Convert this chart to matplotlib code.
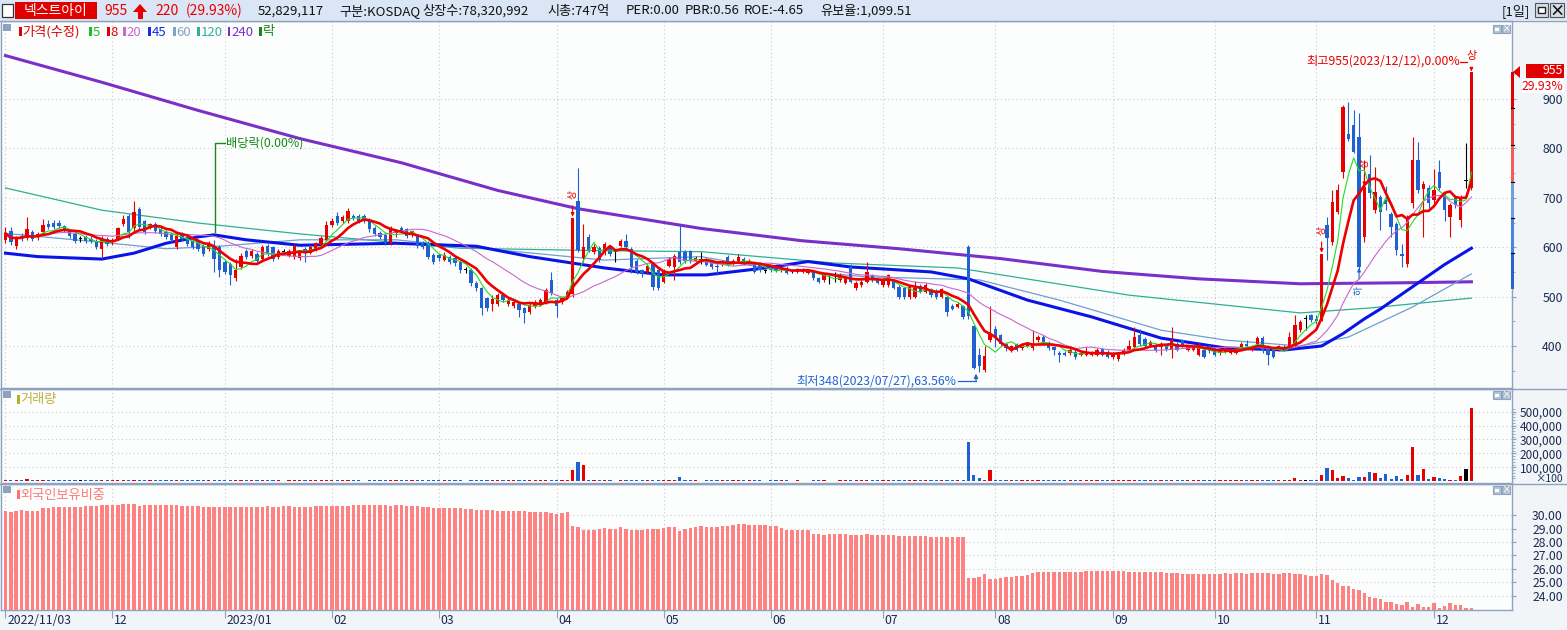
import matplotlib
matplotlib.use("Agg")
import matplotlib.pyplot as plt
import matplotlib.transforms as mtransforms
from matplotlib.patches import Rectangle, Polygon
from matplotlib.lines import Line2D
import numpy as np
import pandas as pd

plt.rcParams["font.family"] = ["Noto Sans CJK KR", "DejaVu Sans"]

# ---------------- data ----------------
# daily candles 2022/11/03 .. 2023/12/12, one row per month in each list
opens = [
    614, 633, 603, 623, 618, 630, 620, 630, 647, 650, 650, 642, 633, 627, 617, 620, 617, 613, 597, 617,
    610, 617, 647, 663, 638, 678, 653, 641, 647, 637, 630, 627, 600, 627, 620, 613, 613, 603, 597, 603, 600,
    570, 567, 537, 560, 593, 583, 587, 577, 603, 600, 580, 590, 583, 580, 578, 596, 589, 596, 605, 615,
    646, 664, 653, 653, 664, 664, 664, 656, 639, 629, 625, 608, 629, 639, 636, 625, 622, 608, 608, 585,
    585, 575, 581, 578, 571, 554, 554, 528, 517, 497, 486, 486, 503, 486, 480, 486, 476, 469, 480, 486, 490, 534,
    493, 490, 500, 505, 693, 578, 621, 590, 598, 590, 600, 590, 603, 613, 597, 573, 553, 550, 567, 553,
    530, 563, 560, 590, 590, 592, 573, 575, 575, 572, 563, 566, 581, 568, 572, 577, 567, 570, 567, 552,
    560, 560, 553, 558, 552, 550, 550, 548, 550, 537, 533, 537, 533, 533, 528, 560, 517, 523, 530, 543, 535,
    523, 523, 533, 520, 517, 499, 500, 521, 510, 515, 512, 500, 499, 482, 479, 481, 600, 440, 382, 352, 412,
    434, 422, 405, 390, 404, 395, 400, 395, 412, 419, 407, 397, 386, 386, 385, 388, 382, 382, 382, 382, 393, 388,
    377, 373, 385, 391, 399, 422, 415, 402, 402, 399, 402, 392, 405, 412, 392, 392, 382, 392, 400,
    395, 385, 388, 386, 386, 395, 405, 392, 404, 417, 399, 395, 392, 395, 398, 401, 432, 455, 462,
    455, 452, 645, 611, 672, 753, 830, 847, 824, 621, 749, 675, 702, 695, 668, 648, 586, 567, 689, 776, 717, 719,
    695, 753, 709, 661, 702, 655, 735, 720,
]
highs = [
    640, 640, 622, 628, 662, 635, 630, 657, 655, 655, 655, 646, 636, 630, 622, 624, 622, 616, 622, 620,
    618, 640, 665, 668, 693, 682, 656, 650, 652, 640, 634, 630, 628, 631, 625, 616, 617, 607, 612, 615, 604,
    574, 570, 577, 588, 596, 597, 590, 604, 606, 603, 597, 596, 597, 606, 592, 600, 604, 611, 622, 653,
    660, 672, 665, 680, 668, 667, 667, 660, 642, 632, 628, 642, 637, 643, 639, 635, 625, 612, 612, 588,
    588, 590, 584, 581, 574, 560, 557, 531, 520, 500, 504, 507, 506, 497, 494, 489, 479, 487, 494, 497, 518, 549,
    497, 500, 514, 660, 761, 647, 626, 606, 603, 610, 604, 597, 616, 627, 600, 576, 556, 566, 570, 556,
    556, 580, 587, 647, 594, 595, 582, 590, 578, 575, 566, 575, 584, 576, 587, 580, 576, 573, 570, 556,
    563, 563, 563, 561, 556, 558, 558, 556, 553, 540, 547, 543, 550, 547, 540, 567, 531, 533, 570, 546, 538,
    538, 546, 536, 523, 520, 524, 532, 525, 528, 518, 515, 518, 502, 486, 489, 484, 605, 442, 395, 400, 480,
    440, 425, 408, 403, 407, 406, 406, 432, 422, 422, 410, 400, 389, 389, 395, 391, 389, 397, 389, 395, 396, 391,
    388, 388, 395, 412, 438, 434, 418, 412, 405, 408, 405, 438, 408, 415, 403, 402, 408, 395, 403,
    398, 395, 398, 396, 398, 408, 412, 403, 420, 420, 402, 398, 403, 402, 428, 462, 452, 462, 465,
    462, 587, 661, 716, 729, 888, 895, 878, 871, 776, 786, 763, 706, 723, 672, 652, 607, 665, 824, 813, 735, 725,
    759, 776, 712, 690, 706, 705, 810, 955,
]
lows = [
    608, 605, 597, 612, 615, 612, 614, 626, 636, 636, 638, 630, 618, 608, 610, 608, 608, 596, 580, 602,
    605, 614, 642, 618, 632, 636, 626, 636, 628, 622, 616, 610, 596, 612, 603, 597, 593, 583, 593, 550, 540,
    545, 523, 532, 556, 576, 579, 568, 574, 583, 573, 577, 585, 580, 577, 575, 570, 586, 593, 602, 612,
    640, 645, 650, 650, 655, 650, 650, 630, 622, 616, 604, 605, 620, 628, 618, 620, 598, 596, 577, 566,
    572, 572, 566, 563, 548, 548, 522, 512, 463, 470, 470, 482, 489, 482, 476, 458, 446, 465, 476, 482, 486, 503,
    458, 486, 496, 500, 590, 570, 590, 586, 570, 585, 583, 570, 600, 596, 547, 545, 540, 546, 513, 513,
    527, 560, 533, 566, 569, 568, 570, 567, 562, 556, 543, 563, 562, 565, 570, 564, 564, 547, 550, 548,
    550, 549, 550, 545, 548, 547, 547, 545, 533, 527, 530, 525, 530, 530, 525, 527, 514, 520, 527, 530, 525,
    520, 520, 515, 496, 496, 496, 497, 507, 507, 499, 496, 497, 460, 472, 476, 455, 455, 353, 348, 348, 408,
    399, 400, 390, 387, 389, 392, 397, 392, 409, 404, 392, 382, 368, 379, 382, 374, 379, 379, 379, 379, 379, 375,
    374, 370, 382, 388, 396, 401, 397, 399, 388, 382, 390, 375, 389, 397, 389, 389, 379, 375, 386,
    379, 382, 385, 383, 383, 392, 398, 389, 401, 386, 361, 375, 389, 394, 395, 398, 429, 432, 449,
    445, 450, 574, 605, 668, 740, 815, 790, 555, 610, 700, 670, 634, 675, 621, 584, 560, 560, 680, 710, 620, 680,
    690, 715, 654, 621, 680, 641, 720, 715,
]
closes = [
    628, 610, 618, 620, 636, 617, 626, 645, 640, 640, 643, 635, 623, 613, 617, 613, 613, 600, 617, 607,
    615, 638, 657, 630, 671, 640, 630, 647, 633, 627, 620, 615, 623, 617, 607, 600, 597, 587, 607, 577, 553,
    550, 543, 553, 583, 580, 593, 573, 600, 587, 577, 593, 590, 593, 602, 588, 588, 600, 608, 619, 646,
    653, 649, 661, 673, 659, 653, 653, 636, 627, 621, 608, 639, 634, 632, 623, 632, 602, 600, 581, 571,
    578, 585, 571, 568, 554, 554, 527, 517, 476, 476, 496, 503, 493, 493, 490, 473, 466, 483, 490, 493, 514, 507,
    480, 497, 510, 660, 595, 600, 595, 600, 575, 607, 587, 590, 612, 600, 560, 550, 547, 563, 520, 517,
    553, 577, 583, 570, 573, 572, 579, 575, 565, 560, 560, 572, 565, 573, 581, 567, 573, 550, 553, 552,
    553, 552, 560, 548, 552, 555, 555, 553, 537, 530, 543, 537, 533, 543, 537, 530, 528, 530, 550, 533, 528,
    535, 543, 518, 500, 500, 520, 517, 510, 523, 503, 500, 515, 468, 475, 485, 459, 460, 355, 360, 380, 425,
    419, 405, 395, 400, 392, 404, 404, 405, 419, 407, 395, 392, 382, 382, 392, 377, 386, 388, 386, 392, 382, 378,
    385, 385, 392, 400, 419, 404, 400, 409, 391, 405, 393, 412, 392, 400, 400, 398, 395, 378, 389,
    382, 392, 395, 393, 396, 405, 400, 400, 417, 389, 382, 378, 400, 398, 418, 442, 449, 455, 452,
    450, 587, 618, 692, 716, 884, 820, 793, 560, 722, 709, 712, 672, 688, 641, 594, 583, 661, 776, 715, 729, 689,
    716, 719, 675, 685, 685, 699, 735, 955,
]
# volume, in units of 100 shares (axis shows x100)
volumes = [
    8000, 6000, 7000, 6000, 14000, 7000, 6000, 9000, 6000, 5000, 6000, 5000, 6000, 7000, 5000, 6000, 5000, 6000, 8000, 6000,
    7000, 9000, 8000, 7000, 12000, 8000, 6000, 5000, 5000, 6000, 5000, 6000, 7000, 5000, 6000, 5000, 5000, 6000, 5000, 9000, 8000,
    7000, 8000, 6000, 7000, 5000, 5000, 6000, 6000, 5000, 6000, 5000, 4000, 5000, 6000, 5000, 5000, 6000, 6000, 7000, 9000,
    8000, 7000, 6000, 8000, 5000, 5000, 4000, 6000, 5000, 5000, 6000, 7000, 5000, 5000, 5000, 5000, 6000, 5000, 6000, 6000,
    5000, 5000, 5000, 6000, 6000, 4000, 7000, 6000, 9000, 6000, 6000, 6000, 5000, 5000, 5000, 6000, 7000, 6000, 5000, 5000, 7000, 8000,
    6000, 5000, 6000, 78000, 137000, 115000, 12000, 12000, 6000, 6000, 5000, 4000, 6000, 7000, 8000, 6000, 5000, 5000, 7000, 6000,
    6000, 6000, 8000, 27000, 7000, 6000, 5000, 4000, 5000, 5000, 5000, 5000, 5000, 5000, 6000, 5000, 5000, 5000, 5000, 4000,
    5000, 5000, 5000, 5000, 4000, 5000, 4000, 4000, 5000, 5000, 5000, 4000, 4000, 5000, 5000, 7000, 5000, 5000, 7000, 5000, 5000,
    5000, 5000, 5000, 6000, 6000, 6000, 6000, 5000, 5000, 5000, 5000, 5000, 7000, 5000, 5000, 6000, 283000, 41000, 20000, 12000, 78000,
    9000, 7000, 6000, 5000, 5000, 5000, 5000, 6000, 6000, 5000, 5000, 5000, 5000, 5000, 5000, 5000, 5000, 5000, 5000, 5000, 5000, 5000,
    5000, 5000, 5000, 6000, 8000, 6000, 5000, 5000, 5000, 5000, 5000, 6000, 5000, 5000, 5000, 5000, 5000, 5000, 5000,
    5000, 5000, 5000, 5000, 5000, 5000, 5000, 5000, 6000, 6000, 6000, 5000, 5000, 7000, 7000, 26000, 12000, 12000, 5000,
    5000, 47000, 96000, 82000, 21000, 40000, 26000, 12000, 33000, 33000, 68000, 61000, 26000, 54000, 19000, 40000, 19000, 47000, 244000, 47000, 89000, 19000,
    33000, 26000, 19000, 12000, 12000, 40000, 89000, 526000,
]
# foreign ownership ratio (%)
foreign = [
    30.32, 30.24, 30.32, 30.37, 30.30, 30.30, 30.30, 30.49, 30.49, 30.59, 30.59, 30.59, 30.59, 30.59, 30.59, 30.66, 30.66, 30.66, 30.73, 30.73,
    30.73, 30.78, 30.85, 30.85, 30.80, 30.66, 30.73, 30.73, 30.73, 30.73, 30.73, 30.73, 30.73, 30.66, 30.66, 30.66, 30.66, 30.59, 30.59, 30.59, 30.59,
    30.59, 30.59, 30.59, 30.59, 30.59, 30.59, 30.59, 30.59, 30.66, 30.59, 30.59, 30.66, 30.66, 30.59, 30.59, 30.59, 30.59, 30.66, 30.66, 30.66,
    30.66, 30.66, 30.66, 30.66, 30.73, 30.73, 30.73, 30.73, 30.73, 30.73, 30.73, 30.66, 30.73, 30.73, 30.66, 30.66, 30.66, 30.59, 30.59, 30.51,
    30.51, 30.51, 30.51, 30.51, 30.51, 30.44, 30.44, 30.37, 30.37, 30.37, 30.37, 30.29, 30.29, 30.29, 30.29, 30.29, 30.29, 30.25, 30.25, 30.22, 30.22, 30.12,
    30.05, 30.12, 30.22, 29.20, 29.12, 28.90, 28.90, 28.90, 28.98, 29.05, 28.98, 28.98, 29.12, 28.98, 28.90, 28.90, 28.90, 28.98, 28.98, 28.98,
    29.05, 29.12, 29.12, 28.83, 28.98, 29.05, 29.12, 29.20, 29.12, 29.12, 29.12, 29.20, 29.20, 29.27, 29.34, 29.34, 29.27, 29.27, 29.27, 29.27,
    29.20, 29.20, 29.05, 28.90, 28.90, 28.90, 28.90, 28.90, 28.60, 28.60, 28.54, 28.60, 28.60, 28.60, 28.60, 28.54, 28.54, 28.54, 28.60, 28.54, 28.54,
    28.54, 28.54, 28.54, 28.46, 28.46, 28.46, 28.46, 28.46, 28.46, 28.39, 28.39, 28.39, 28.39, 28.39, 28.39, 28.39, 25.32, 25.32, 25.39, 25.60, 25.24,
    25.24, 25.32, 25.39, 25.39, 25.46, 25.46, 25.54, 25.68, 25.76, 25.76, 25.76, 25.76, 25.76, 25.76, 25.76, 25.76, 25.76, 25.83, 25.83, 25.83, 25.83, 25.83,
    25.83, 25.83, 25.83, 25.76, 25.76, 25.76, 25.76, 25.76, 25.76, 25.76, 25.68, 25.68, 25.68, 25.61, 25.61, 25.61, 25.61, 25.61, 25.61,
    25.61, 25.61, 25.68, 25.61, 25.68, 25.68, 25.61, 25.68, 25.68, 25.68, 25.68, 25.61, 25.61, 25.68, 25.73, 25.63, 25.63, 25.56, 25.48,
    25.48, 25.63, 25.56, 25.19, 24.99, 24.74, 24.74, 24.52, 24.44, 24.25, 23.93, 23.85, 23.78, 23.56, 23.56, 23.41, 23.33, 23.56, 23.19, 23.41, 23.19, 23.19,
    23.48, 23.11, 23.26, 23.48, 23.33, 23.33, 23.11, 23.11,
]

# long moving averages (bar index, value)
ma45_idx = [0, 6, 18, 24, 30, 36, 39, 45, 55, 73, 88, 98, 112, 123, 131, 142, 150, 158, 173, 180, 191, 203, 216, 228, 239, 246, 250, 254, 257, 263, 269, 274]
ma45_val = [588, 581, 576, 588, 608, 621, 625, 615, 604, 608, 602, 581, 558, 544, 544, 558, 571, 560, 550, 536, 493, 459, 416, 396, 392, 400, 425, 455, 475, 520, 565, 598]
ma60_idx = [0, 18, 30, 40, 55, 73, 85, 112, 130, 142, 161, 182, 197, 216, 228, 242, 251, 263, 274]
ma60_val = [628, 610, 597, 602, 615, 615, 602, 574, 581, 558, 540, 534, 493, 432, 412, 400, 418, 479, 546]
ma120_idx = [0, 18, 36, 55, 85, 112, 130, 155, 178, 210, 242, 255, 274]
ma120_val = [720, 675, 649, 627, 598, 593, 591, 568, 558, 503, 467, 477, 497]
ma240_idx = [0, 18, 36, 55, 74, 92, 107, 130, 149, 167, 186, 205, 223, 242, 261, 274]
ma240_val = [988, 934, 877, 820, 771, 715, 678, 638, 613, 597, 577, 551, 536, 526, 528, 530]

month_idx = [0, 20, 41, 61, 81, 103, 123, 143, 164, 185, 207, 226, 245, 267]
month_labels = ["2022/11/03", "12", "2023/01", "02", "03", "04", "05", "06", "07", "08", "09", "10", "11", "12"]

limit_up_idx = [106, 246, 254]
limit_down_idx = [253]
exdiv_idx = 39
high_date, high_pct = "2023/12/12", 0.00
low_date, low_pct = "2023/07/27", 63.56

price_ticks = [400, 500, 600, 700, 800, 900]
volume_ticks = [100000, 200000, 300000, 400000, 500000]
foreign_ticks = [24, 25, 26, 27, 28, 29, 30]

# ---------------- style ----------------
W, H = 1567, 630
RED = "#e80000"
BLUE = "#1f62cf"
NAVY = "#1c2a52"
FRAME = "#8ea2be"
PANEL_BG = "#fcfefe"
SIDE_BG = "#f1f5f7"
GRID = "#c6cbd2"

o = np.array(opens, float)
h = np.array(highs, float)
l = np.array(lows, float)
c = np.array(closes, float)
idx = np.arange(len(c))
cols = np.where(c > o, RED, np.where(c < o, BLUE, "#000000"))

fig = plt.figure(figsize=(W / 100, H / 100), dpi=100)
fig.patch.set_facecolor(SIDE_BG)


def box(x0, y0, x1, y1):
    return [x0 / W, 1 - y1 / H, (x1 - x0) / W, (y1 - y0) / H]


def rect(x0, y0, x1, y1, **kw):
    fig.add_artist(Rectangle((x0 / W, 1 - y1 / H), (x1 - x0) / W, (y1 - y0) / H,
                             transform=fig.transFigure, **kw))


def ftext(x, y, s, **kw):
    fig.text(x / W, 1 - y / H, s, **kw)


def fline(x0, y0, x1, y1, **kw):
    fig.add_artist(Line2D([x0 / W, x1 / W], [1 - y0 / H, 1 - y1 / H], transform=fig.transFigure, **kw))


XL = ((1 - 5.5) / 5.35, (1512 - 5.5) / 5.35)

ax_p = fig.add_axes(box(1, 21, 1512, 388))
ax_v = fig.add_axes(box(1, 389, 1512, 483))
ax_f = fig.add_axes(box(1, 484, 1512, 610))

for ax in (ax_p, ax_v, ax_f):
    ax.set_facecolor(PANEL_BG)
    ax.set_xlim(*XL)
    for sp in ax.spines.values():
        sp.set_color(FRAME)
        sp.set_linewidth(1.0)
    ax.set_xticks(month_idx)
    ax.tick_params(axis="x", length=0, labelbottom=False)
    ax.yaxis.tick_right()
    ax.tick_params(axis="y", which="major", direction="out", length=3, color=FRAME,
                   pad=33.5, labelsize=8.8, labelcolor=NAVY)
    ax.tick_params(axis="y", which="minor", direction="out", length=2, color=FRAME)
    ax.grid(True, color=GRID, linestyle=(0, (1, 2.5)), linewidth=0.8)
    ax.set_axisbelow(True)

# ---------------- price panel ----------------
ax_p.set_ylim(315, 1058)
ax_p.set_yticks(price_ticks)
ax_p.set_yticklabels([str(t) for t in price_ticks])
ax_p.set_yticks(np.arange(350, 1000, 100), minor=True)

ax_p.plot(ma240_idx, ma240_val, color="#7a2fc8", lw=2.2, zorder=2)
ax_p.plot(ma120_idx, ma120_val, color="#2fae94", lw=0.9, zorder=2)
ax_p.plot(ma60_idx, ma60_val, color="#6f9fd0", lw=0.9, zorder=2)
ax_p.plot(ma45_idx, ma45_val, color="#0a14e6", lw=2.2, zorder=2.5)

ax_p.vlines(idx, l, h, colors=cols, lw=0.8, zorder=3)
ax_p.bar(idx, np.maximum(np.abs(c - o), 1.6), bottom=np.minimum(o, c), width=0.62,
         color=cols, linewidth=0, zorder=3)

s = pd.Series(c)
ax_p.plot(idx, s.rolling(20, min_periods=1).mean(), color="#cc66cc", lw=0.8, zorder=3.5)
ax_p.plot(idx, s.rolling(5, min_periods=1).mean(), color="#22dd22", lw=0.8, zorder=4)
ax_p.plot(idx, s.rolling(8, min_periods=1).mean(), color="#ee0000", lw=1.9, zorder=4.5)

# limit-up / limit-down markers
for i in limit_up_idx:
    ax_p.annotate("상", xy=(i, c[i] + 2), xytext=(0, 16), textcoords="offset points",
                  ha="center", va="center", rotation=90, fontsize=7, color=RED,
                  arrowprops=dict(arrowstyle="-|>", color=RED, lw=0.8, mutation_scale=5,
                                  shrinkA=3, shrinkB=0), zorder=6)
for i in limit_down_idx:
    ax_p.annotate("하", xy=(i, c[i] - 2), xytext=(0, -16), textcoords="offset points",
                  ha="center", va="center", rotation=90, fontsize=7, color=BLUE,
                  arrowprops=dict(arrowstyle="-|>", color=BLUE, lw=0.8, mutation_scale=5,
                                  shrinkA=3, shrinkB=0), zorder=6)

# highest / lowest
hi = int(np.argmax(h))
lo = int(np.argmin(l))
ax_p.annotate("상", xy=(hi, h[hi] + 1), xytext=(0, 11), textcoords="offset points",
              ha="center", va="center", fontsize=8, color=RED,
              arrowprops=dict(arrowstyle="-|>", color=RED, lw=0.8, mutation_scale=5,
                              shrinkA=4, shrinkB=0), zorder=6)
ax_p.plot([hi - 2.2, hi - 0.9], [h[hi] + 21, h[hi] + 21], color=RED, lw=0.9, zorder=6)
ax_p.text(hi - 2.2, h[hi] + 21, f"최고{int(h[hi])}({high_date}),{high_pct:.2f}%", ha="right",
          va="center", fontsize=8.8, color=RED, zorder=6)

ax_p.text(lo - 4.2, l[lo] - 19, f"최저{int(l[lo])}({low_date}),{low_pct:.2f}%", ha="right",
          va="center", fontsize=8.8, color=BLUE, zorder=6)
ax_p.plot([lo - 4.0, lo - 0.6], [l[lo] - 19, l[lo] - 19], color=BLUE, lw=0.9, zorder=6)
ax_p.annotate("", xy=(lo - 0.6, l[lo] - 4), xytext=(lo - 0.6, l[lo] - 19),
              arrowprops=dict(arrowstyle="-|>", color=BLUE, lw=0.9, mutation_scale=6,
                              shrinkA=0, shrinkB=0), zorder=6)

# ex-dividend mark
GREEN = "#138a13"
ax_p.plot([exdiv_idx + 0.2, exdiv_idx + 0.2, exdiv_idx + 2.0],
          [h[exdiv_idx] + 16, 811, 811], color=GREEN, lw=1.0, zorder=6)
ax_p.text(exdiv_idx + 2.3, 811, "배당락(0.00%)", ha="left", va="center",
          fontsize=8.8, color=GREEN, zorder=6)

# ---------------- volume panel ----------------
ax_v.set_ylim(-13000, 663000)
ax_v.bar(idx, volumes, width=0.6, color=cols, linewidth=0, zorder=3)
ax_v.set_yticks(volume_ticks)
ax_v.set_yticklabels([f"{v:,}" for v in volume_ticks])
ax_v.set_yticks(np.arange(20000, 540000, 20000), minor=True)
ax_v.tick_params(axis="y", which="major", labelsize=8.5)

# ---------------- foreign ownership panel ----------------
f_base = 22.96
ax_f.set_ylim(f_base, 32.3)
ax_f.bar(idx, np.array(foreign) - f_base, bottom=f_base, width=0.64, color="#ff8282",
         linewidth=0, zorder=3)
ax_f.set_yticks(foreign_ticks)
ax_f.set_yticklabels([f"{v:.2f}" for v in foreign_ticks])
ax_f.tick_params(axis="x", length=6, color=FRAME, direction="out")
tr = mtransforms.blended_transform_factory(ax_f.transData, ax_f.transAxes)
for i, lab in zip(month_idx, month_labels):
    ax_f.text(i + 0.35, -0.03, lab, transform=tr, ha="left", va="top", fontsize=8.8,
              color=NAVY, clip_on=False)

for ax in (ax_p, ax_v, ax_f):
    for lab in ax.get_yticklabels():
        lab.set_horizontalalignment("right")

# ---------------- frame, header, legends ----------------
rect(0, 0, W, 20, facecolor="#dae5f6", edgecolor="none")
fline(0, 20.5, W, 20.5, color=FRAME, lw=1.0)
fline(0, 388.5, W, 388.5, color=FRAME, lw=1.0)
fline(0, 483.5, W, 483.5, color=FRAME, lw=1.0)

rect(2, 4, 13, 17, facecolor="white", edgecolor="#333333", lw=0.9)
rect(15, 2, 97, 19, facecolor="#e00000", edgecolor="none")
ftext(56, 11, "넥스트아이", ha="center", va="center", fontsize=10, color="white")

chg = c[-1] - c[-2]
pct = chg / c[-2] * 100
ftext(104, 11, f"{int(c[-1])}", ha="left", va="center", fontsize=10, color=RED)
fig.add_artist(Polygon([(133 / W, 1 - 12 / H), (147 / W, 1 - 12 / H), (140 / W, 1 - 4 / H)],
                       closed=True, transform=fig.transFigure, facecolor=RED, edgecolor="none"))
rect(137.5, 11, 142.5, 19, facecolor=RED, edgecolor="none")
ftext(155, 11, f"{int(chg)}", ha="left", va="center", fontsize=10, color=RED)
ftext(186, 11, f"({pct:.2f}%)", ha="left", va="center", fontsize=10, color=RED)

info = [(258, "52,829,117"), (339, "구분:KOSDAQ"), (422, "상장수:78,320,992"), (547, "시총:747억"),
        (626, "PER:0.00"), (685, "PBR:0.56"), (744, "ROE:-4.65"), (820, "유보율:1,099.51")]
for x, t in info:
    ftext(x, 11, t, ha="left", va="center", fontsize=9.5, color="#111111")

ftext(1502, 11, "[1일]", ha="left", va="center", fontsize=9.5, color="#111111")
rect(1535, 3, 1548, 17, facecolor="#d5dde8", edgecolor="#555555", lw=0.8)
rect(1538, 7, 1545, 13, facecolor="white", edgecolor="#222222", lw=1.0)
rect(1550, 3, 1564, 17, facecolor="#d5dde8", edgecolor="#555555", lw=0.8)
ftext(1557, 10.5, "×", ha="center", va="center", fontsize=11, color="#111111", fontweight="bold")

# panel corner buttons
for ytop in (25, 391, 486):
    for x0 in (1493, 1502):
        rect(x0, ytop, x0 + 8, ytop + 8, facecolor="#b4c2d4", edgecolor=FRAME, lw=0.8)
    rect(1495, ytop + 2.5, 1499, ytop + 5.5, facecolor="white", edgecolor="none")
    ftext(1506, ytop + 4, "×", ha="center", va="center", fontsize=7, color="white")

# legends
rect(3, 24, 11, 31, facecolor=FRAME, edgecolor="none")
legend_items = [(19, "가격(수정)", "#e00000"), (89, "5", "#22bb22"), (107, "8", "#e00000"),
                (123, "20", "#cc66cc"), (148, "45", "#1a2ae0"), (173, "60", "#7fa3cc"),
                (197, "120", "#35ad9a"), (228, "240", "#7a2fc8"), (259, "락", "#138a13")]
for x, t, col in legend_items:
    rect(x, 27, x + 2.5, 36, facecolor=col, edgecolor="none")
    ftext(x + 3.5, 32, t, ha="left", va="center", fontsize=9.5, color=col)

rect(3, 391, 11, 398, facecolor=FRAME, edgecolor="none")
rect(17, 395, 19.5, 404, facecolor="#b8ae2e", edgecolor="none")
ftext(20.5, 400, "거래량", ha="left", va="center", fontsize=9.5, color="#bdb23c")

rect(3, 486, 11, 493, facecolor=FRAME, edgecolor="none")
rect(17, 490, 19.5, 499, facecolor="#ff7070", edgecolor="none")
ftext(20.5, 495, "외국인보유비중", ha="left", va="center", fontsize=9.5, color="#ff7a7a")

# right side: current price tag and range bar
rect(1526, 64, 1564, 78, facecolor="#e00000", edgecolor="none")
ftext(1563, 71, f"{int(c[-1])}", ha="right", va="center", fontsize=8.8, color="white")
rect(1522, 79, 1564, 93, facecolor="white", edgecolor="none")
ftext(1563, 86, f"{pct:.2f}%", ha="right", va="center", fontsize=8.8, color=RED)
fig.add_artist(Polygon([(1513 / W, 1 - 72 / H), (1520 / W, 1 - 66 / H), (1520 / W, 1 - 78 / H)],
                       closed=True, transform=fig.transFigure, facecolor=RED, edgecolor="none"))
segs = [(72, 108, "#e00000"), (108, 145, "#e23a3a"), (145, 182, "#f25c5c"),
        (182, 218, "#6e9ee2"), (218, 253, "#4a84de"), (253, 289, "#2566cc")]
for y0, y1, col in segs:
    rect(1510.5, y0, 1514, y1, facecolor=col, edgecolor="none", zorder=5)
for y in (108, 145, 182, 218, 253):
    fline(1510.5, y, 1514, y, color="#000000", lw=0.8, zorder=6)

ftext(1563, 479.5, "×100", ha="right", va="center", fontsize=7.5, color=NAVY)

fig.savefig("out.png", dpi=100, facecolor=fig.get_facecolor())
